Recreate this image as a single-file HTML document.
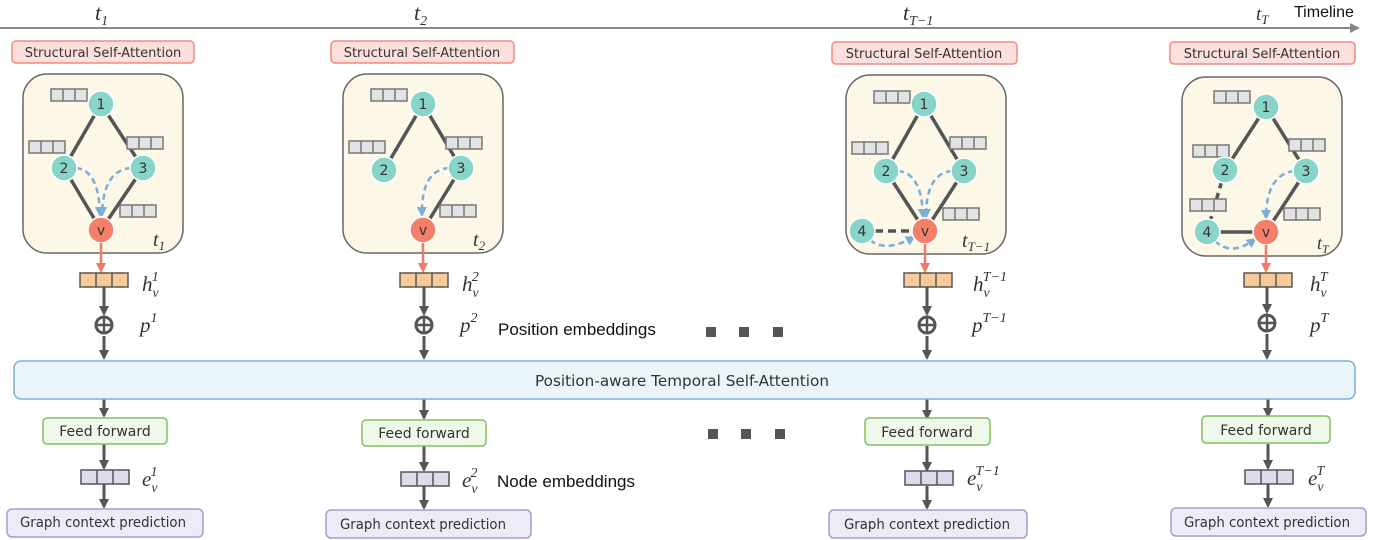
<!DOCTYPE html>
<html><head><meta charset="utf-8"><style>
html,body{margin:0;padding:0;background:#fff;width:1374px;height:540px;overflow:hidden}
svg{display:block}
.s{font-family:"DejaVu Sans","Liberation Sans",sans-serif;fill:#333}
.m{font-family:"Liberation Serif",serif;font-style:italic;fill:#333}
.n{font-family:"DejaVu Sans","Liberation Sans",sans-serif;font-size:14px;fill:#333;text-anchor:middle}
</style></head><body>
<svg width="1374" height="540" viewBox="0 0 1374 540" xmlns="http://www.w3.org/2000/svg">
<defs>
<marker id="ad" markerWidth="10" markerHeight="10" refX="8" refY="5" orient="auto" markerUnits="userSpaceOnUse"><path d="M0,0 L10,5 L0,10z" fill="#555"/></marker>
<marker id="ab" markerWidth="10" markerHeight="10" refX="8" refY="5" orient="auto" markerUnits="userSpaceOnUse"><path d="M0,0 L10,5 L0,10z" fill="#7aaed6"/></marker>
<marker id="ar" markerWidth="10" markerHeight="10" refX="8" refY="5" orient="auto" markerUnits="userSpaceOnUse"><path d="M0,0 L10,5 L0,10z" fill="#f07a6a"/></marker>
<g id="gb"><rect x="0" y="0" width="36" height="12" fill="#e3e3e3" stroke="#777" stroke-width="1.5"/><line x1="12" y1="0" x2="12" y2="12" stroke="#777" stroke-width="1.5"/><line x1="24" y1="0" x2="24" y2="12" stroke="#777" stroke-width="1.5"/></g>
<g id="ob"><rect x="0" y="0" width="48" height="14" fill="#f9c99a" stroke="#555" stroke-width="1.5"/><line x1="16" y1="0" x2="16" y2="14" stroke="#555" stroke-width="1.5"/><line x1="32" y1="0" x2="32" y2="14" stroke="#555" stroke-width="1.5"/></g>
<g id="pb"><rect x="0" y="0" width="48" height="14" fill="#dcdcec" stroke="#555" stroke-width="1.5"/><line x1="16" y1="0" x2="16" y2="14" stroke="#555" stroke-width="1.5"/><line x1="32" y1="0" x2="32" y2="14" stroke="#555" stroke-width="1.5"/></g>
<g id="box"><rect x="0" y="0" width="160" height="179" rx="24" fill="#fdf7e8" stroke="#666" stroke-width="1.5"/></g>
</defs>

<line x1="0" y1="28" x2="1352" y2="28" stroke="#888" stroke-width="2"/>
<path d="M1350,23 L1360,28 L1350,33z" fill="#888"/>
<text x="95" y="20" class="m" font-size="22">t<tspan font-size="14" dy="5">1</tspan></text>
<text x="414" y="20" class="m" font-size="22">t<tspan font-size="14" dy="5">2</tspan></text>
<text x="903" y="20" class="m" font-size="22">t<tspan font-size="14" dy="5">T−1</tspan></text>
<text x="1256" y="20" class="m" font-size="19">t<tspan font-size="13" dy="4">T</tspan></text>
<text x="1294" y="17" font-family="Liberation Sans,sans-serif" font-size="16" fill="#111">Timeline</text>

<g class="s" style="font-size:13px" text-anchor="middle">
<rect x="12" y="41" width="182" height="22" rx="4" fill="#fde0de" stroke="#f08a80" stroke-width="1.5"/><text x="103" y="57">Structural Self-Attention</text>
<rect x="331" y="41" width="183" height="22" rx="4" fill="#fde0de" stroke="#f08a80" stroke-width="1.5"/><text x="422" y="57">Structural Self-Attention</text>
<rect x="832" y="42" width="185" height="22" rx="4" fill="#fde0de" stroke="#f08a80" stroke-width="1.5"/><text x="924" y="58">Structural Self-Attention</text>
<rect x="1170" y="42" width="185" height="22" rx="4" fill="#fde0de" stroke="#f08a80" stroke-width="1.5"/><text x="1262" y="58">Structural Self-Attention</text>
</g>

<g transform="translate(23,74)">
<use href="#box"/>
<g stroke="#555" stroke-width="3.5"><line x1="78" y1="30" x2="41" y2="94"/><line x1="78" y1="30" x2="120" y2="94"/><line x1="41" y1="94" x2="78" y2="156"/><line x1="120" y1="94" x2="78" y2="156"/></g>
<use href="#gb" x="28" y="15"/><use href="#gb" x="6" y="67"/><use href="#gb" x="104" y="63"/><use href="#gb" x="97" y="131"/>
<g fill="none" stroke="#7aaed6" stroke-width="2.5" stroke-dasharray="6,4"><path d="M53,94 Q76,96 77,141" marker-end="url(#ab)"/><path d="M108,94 Q80,96 79,141" marker-end="url(#ab)"/></g>
<g stroke="#fff" stroke-width="1.5"><circle cx="78" cy="30" r="13" fill="#88d4c8"/><circle cx="41" cy="94" r="13" fill="#88d4c8"/><circle cx="120" cy="94" r="13" fill="#88d4c8"/><circle cx="78" cy="156" r="13" fill="#f4806a"/></g>
<text x="78" y="35" class="n">1</text><text x="41" y="99" class="n">2</text><text x="120" y="99" class="n">3</text><text x="78" y="161" class="n">v</text>
<text x="130" y="172" class="m" font-size="20">t<tspan font-size="13" dy="4">1</tspan></text>
</g>

<g transform="translate(343,74)">
<use href="#box"/>
<g stroke="#555" stroke-width="3.5"><line x1="80" y1="30" x2="41" y2="96"/><line x1="80" y1="30" x2="118" y2="94"/><line x1="118" y1="94" x2="80" y2="156"/></g>
<use href="#gb" x="28" y="15"/><use href="#gb" x="6" y="67"/><use href="#gb" x="103" y="63"/><use href="#gb" x="97" y="131"/>
<g fill="none" stroke="#7aaed6" stroke-width="2.5" stroke-dasharray="6,4"><path d="M106,94 Q78,96 79,141" marker-end="url(#ab)"/></g>
<g stroke="#fff" stroke-width="1.5"><circle cx="80" cy="30" r="13" fill="#88d4c8"/><circle cx="41" cy="96" r="13" fill="#88d4c8"/><circle cx="118" cy="94" r="13" fill="#88d4c8"/><circle cx="80" cy="156" r="13" fill="#f4806a"/></g>
<text x="80" y="35" class="n">1</text><text x="41" y="101" class="n">2</text><text x="118" y="99" class="n">3</text><text x="80" y="161" class="n">v</text>
<text x="130" y="172" class="m" font-size="20">t<tspan font-size="13" dy="4">2</tspan></text>
</g>

<g transform="translate(846,75)">
<use href="#box"/>
<g stroke="#555" stroke-width="3.5"><line x1="78" y1="29" x2="40" y2="96"/><line x1="78" y1="29" x2="118" y2="96"/><line x1="40" y1="96" x2="79" y2="156"/><line x1="118" y1="96" x2="79" y2="156"/><line x1="16" y1="156" x2="79" y2="156" stroke-dasharray="8,5"/></g>
<use href="#gb" x="28" y="16"/><use href="#gb" x="6" y="67"/><use href="#gb" x="104" y="62"/><use href="#gb" x="97" y="133"/>
<g fill="none" stroke="#7aaed6" stroke-width="2.5" stroke-dasharray="6,4"><path d="M52,96 Q76,98 77,142" marker-end="url(#ab)"/><path d="M106,96 Q80,98 80,142" marker-end="url(#ab)"/><path d="M24,165 Q40,178 68,162" marker-end="url(#ab)"/></g>
<g stroke="#fff" stroke-width="1.5"><circle cx="78" cy="29" r="13" fill="#88d4c8"/><circle cx="40" cy="96" r="13" fill="#88d4c8"/><circle cx="118" cy="96" r="13" fill="#88d4c8"/><circle cx="16" cy="156" r="13" fill="#88d4c8"/><circle cx="79" cy="156" r="13" fill="#f4806a"/></g>
<text x="78" y="34" class="n">1</text><text x="40" y="101" class="n">2</text><text x="118" y="101" class="n">3</text><text x="16" y="161" class="n">4</text><text x="79" y="161" class="n">v</text>
<text x="116" y="172" class="m" font-size="20">t<tspan font-size="13" dy="4">T−1</tspan></text>
</g>

<g transform="translate(1182,77)">
<use href="#box"/>
<g stroke="#555" stroke-width="3.5"><line x1="84" y1="30" x2="43" y2="93"/><line x1="84" y1="30" x2="124" y2="94"/><line x1="124" y1="94" x2="84" y2="155"/><line x1="43" y1="93" x2="25" y2="155" stroke-dasharray="7,5"/><line x1="25" y1="155" x2="84" y2="155"/></g>
<use href="#gb" x="32" y="14"/><use href="#gb" x="11" y="68"/><use href="#gb" x="107" y="62"/><use href="#gb" x="8" y="122"/><use href="#gb" x="102" y="131"/>
<g fill="none" stroke="#7aaed6" stroke-width="2.5" stroke-dasharray="6,4"><path d="M112,94 Q84,98 84,141" marker-end="url(#ab)"/><path d="M33,164 Q50,180 73,162" marker-end="url(#ab)"/></g>
<g stroke="#fff" stroke-width="1.5"><circle cx="84" cy="30" r="13" fill="#88d4c8"/><circle cx="43" cy="93" r="13" fill="#88d4c8"/><circle cx="124" cy="94" r="13" fill="#88d4c8"/><circle cx="25" cy="155" r="13" fill="#88d4c8"/><circle cx="84" cy="155" r="13" fill="#f4806a"/></g>
<text x="84" y="35" class="n">1</text><text x="43" y="98" class="n">2</text><text x="124" y="99" class="n">3</text><text x="25" y="160" class="n">4</text><text x="84" y="160" class="n">v</text>
<text x="135" y="172" class="m" font-size="18">t<tspan font-size="12" dy="4">T</tspan></text>
</g>

<g stroke="#f07a6a" stroke-width="2.5">
<line x1="101" y1="243" x2="101" y2="271" marker-end="url(#ar)"/>
<line x1="423" y1="243" x2="423" y2="271" marker-end="url(#ar)"/>
<line x1="925" y1="244" x2="925" y2="271" marker-end="url(#ar)"/>
<line x1="1266" y1="245" x2="1266" y2="271" marker-end="url(#ar)"/>
</g>

<g stroke="#555" stroke-width="3">
<line x1="104" y1="287" x2="104" y2="314" marker-end="url(#ad)"/><line x1="104" y1="336" x2="104" y2="358" marker-end="url(#ad)"/>
<line x1="424" y1="287" x2="424" y2="314" marker-end="url(#ad)"/><line x1="424" y1="336" x2="424" y2="358" marker-end="url(#ad)"/>
<line x1="927" y1="287" x2="927" y2="314" marker-end="url(#ad)"/><line x1="927" y1="336" x2="927" y2="358" marker-end="url(#ad)"/>
<line x1="1267" y1="287" x2="1267" y2="312" marker-end="url(#ad)"/><line x1="1267" y1="334" x2="1267" y2="358" marker-end="url(#ad)"/>
<line x1="104" y1="393" x2="104" y2="416" marker-end="url(#ad)"/><line x1="104" y1="444" x2="104" y2="468" marker-end="url(#ad)"/><line x1="104" y1="484" x2="104" y2="507" marker-end="url(#ad)"/>
<line x1="424" y1="393" x2="424" y2="418" marker-end="url(#ad)"/><line x1="424" y1="446" x2="424" y2="470" marker-end="url(#ad)"/><line x1="424" y1="486" x2="424" y2="508" marker-end="url(#ad)"/>
<line x1="927" y1="393" x2="927" y2="418" marker-end="url(#ad)"/><line x1="927" y1="446" x2="927" y2="470" marker-end="url(#ad)"/><line x1="927" y1="486" x2="927" y2="508" marker-end="url(#ad)"/>
<line x1="1268" y1="393" x2="1268" y2="416" marker-end="url(#ad)"/><line x1="1268" y1="444" x2="1268" y2="468" marker-end="url(#ad)"/><line x1="1268" y1="484" x2="1268" y2="506" marker-end="url(#ad)"/>
</g>
<use href="#ob" x="80" y="273"/><use href="#ob" x="400" y="273"/><use href="#ob" x="904" y="273"/><use href="#ob" x="1244" y="273"/>
<g fill="#fff" stroke="#555" stroke-width="3">
<circle cx="104" cy="325" r="8"/><circle cx="424" cy="325" r="8"/><circle cx="927" cy="325" r="8"/><circle cx="1267" cy="323" r="8"/>
</g>
<g stroke="#555" stroke-width="2.5">
<path d="M96,325h16M104,317v16"/><path d="M416,325h16M424,317v16"/><path d="M919,325h16M927,317v16"/><path d="M1259,323h16M1267,315v16"/>
</g>

<g class="m" font-size="21">
<text x="142" y="291">h<tspan font-size="14" dy="6">v</tspan><tspan font-size="14" dx="-7" dy="-16">1</tspan></text>
<text x="462" y="291">h<tspan font-size="14" dy="6">v</tspan><tspan font-size="14" dx="-7" dy="-16">2</tspan></text>
<text x="973" y="291">h<tspan font-size="14" dy="6">v</tspan><tspan font-size="14" dx="-7" dy="-16">T−1</tspan></text>
<text x="1310" y="291">h<tspan font-size="14" dy="6">v</tspan><tspan font-size="14" dx="-7" dy="-16">T</tspan></text>
<text x="140" y="332">p<tspan font-size="14" dy="-10">1</tspan></text>
<text x="460" y="332">p<tspan font-size="14" dy="-10">2</tspan></text>
<text x="972" y="332">p<tspan font-size="14" dy="-10">T−1</tspan></text>
<text x="1310" y="332">p<tspan font-size="14" dy="-10">T</tspan></text>
<text x="142" y="486">e<tspan font-size="14" dy="6">v</tspan><tspan font-size="14" dx="-7" dy="-16">1</tspan></text>
<text x="462" y="487">e<tspan font-size="14" dy="6">v</tspan><tspan font-size="14" dx="-7" dy="-16">2</tspan></text>
<text x="967" y="485">e<tspan font-size="14" dy="6">v</tspan><tspan font-size="14" dx="-7" dy="-16">T−1</tspan></text>
<text x="1308" y="485">e<tspan font-size="14" dy="6">v</tspan><tspan font-size="14" dx="-7" dy="-16">T</tspan></text>
</g>
<text x="498" y="335" font-family="Liberation Sans,sans-serif" font-size="17" fill="#111">Position embeddings</text>
<text x="497" y="487" font-family="Liberation Sans,sans-serif" font-size="17" fill="#111">Node embeddings</text>

<g fill="#555">
<rect x="706" y="327" width="10" height="10"/><rect x="739" y="327" width="10" height="10"/><rect x="773" y="327" width="10" height="10"/>
<rect x="708" y="429" width="10" height="10"/><rect x="741" y="429" width="10" height="10"/><rect x="775" y="429" width="10" height="10"/>
</g>

<rect x="14" y="361" width="1341" height="38" rx="7" fill="#e9f5f9" stroke="#7fb0d8" stroke-width="1.5"/>
<text x="682" y="386" class="s" style="font-size:15px" text-anchor="middle" textLength="294" lengthAdjust="spacingAndGlyphs">Position-aware Temporal Self-Attention</text>

<g class="s" style="font-size:14px" text-anchor="middle">
<rect x="43" y="418" width="124" height="26" rx="4" fill="#eff8e9" stroke="#7fc060" stroke-width="1.5"/><text x="105" y="436">Feed forward</text>
<rect x="362" y="420" width="124" height="26" rx="4" fill="#eff8e9" stroke="#7fc060" stroke-width="1.5"/><text x="424" y="438">Feed forward</text>
<rect x="865" y="418" width="125" height="27" rx="4" fill="#eff8e9" stroke="#7fc060" stroke-width="1.5"/><text x="927" y="437">Feed forward</text>
<rect x="1202" y="416" width="128" height="27" rx="4" fill="#eff8e9" stroke="#7fc060" stroke-width="1.5"/><text x="1266" y="435">Feed forward</text>
</g>
<use href="#pb" x="81" y="470"/><use href="#pb" x="401" y="472"/><use href="#pb" x="905" y="471"/><use href="#pb" x="1245" y="470"/>

<g class="s" style="font-size:14px" text-anchor="middle">
<rect x="7" y="509" width="196" height="28" rx="5" fill="#ecebf8" stroke="#a89ccc" stroke-width="1.5"/><text x="103" y="527" textLength="166" lengthAdjust="spacingAndGlyphs">Graph context  prediction</text>
<rect x="326" y="510" width="205" height="28" rx="5" fill="#ecebf8" stroke="#a89ccc" stroke-width="1.5"/><text x="423" y="529" textLength="166" lengthAdjust="spacingAndGlyphs">Graph context  prediction</text>
<rect x="829" y="510" width="198" height="28" rx="5" fill="#ecebf8" stroke="#a89ccc" stroke-width="1.5"/><text x="927" y="529" textLength="166" lengthAdjust="spacingAndGlyphs">Graph context  prediction</text>
<rect x="1171" y="508" width="195" height="28" rx="5" fill="#ecebf8" stroke="#a89ccc" stroke-width="1.5"/><text x="1267" y="527" textLength="166" lengthAdjust="spacingAndGlyphs">Graph context  prediction</text>
</g>
</svg>
</body></html>
